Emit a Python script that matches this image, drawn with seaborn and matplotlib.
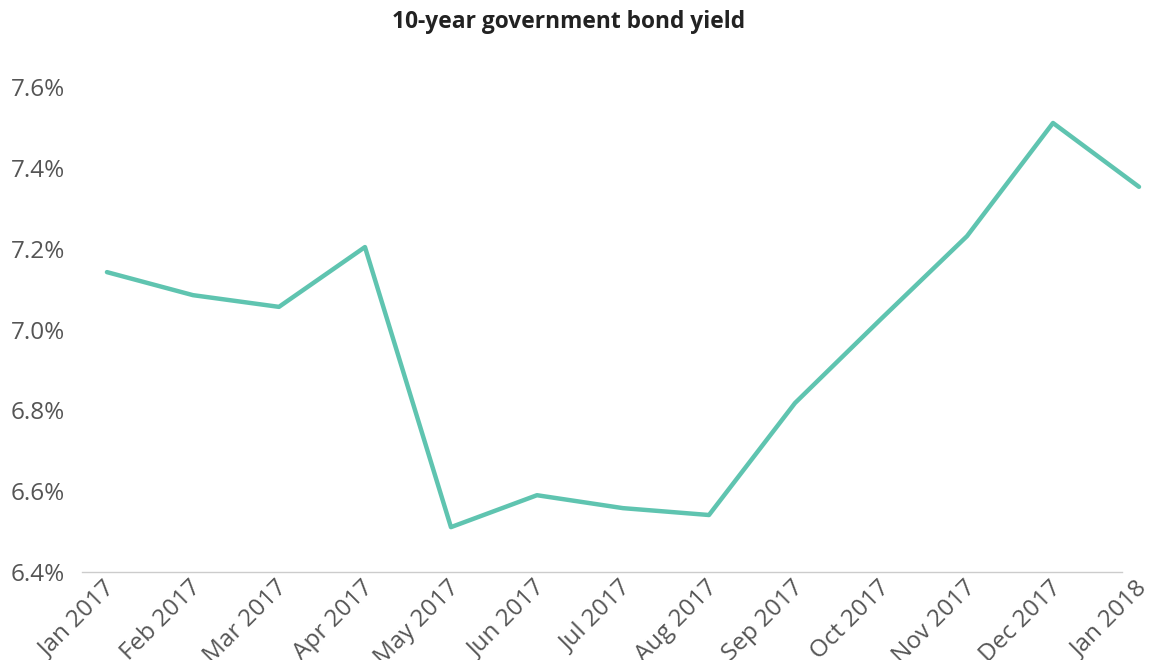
import matplotlib
matplotlib.use("Agg")
import matplotlib.pyplot as plt
import matplotlib.transforms as mtransforms
import seaborn as sns
import pandas as pd
import numpy as np

months = ["Jan 2017", "Feb 2017", "Mar 2017", "Apr 2017", "May 2017", "Jun 2017",
          "Jul 2017", "Aug 2017", "Sep 2017", "Oct 2017", "Nov 2017", "Dec 2017", "Jan 2018"]
yields = [7.142, 7.085, 7.056, 7.204, 6.511, 6.590, 6.558, 6.541, 6.818, 7.026, 7.231, 7.511, 7.353]
yticks = [6.4, 6.6, 6.8, 7.0, 7.2, 7.4, 7.6]

sns.set_theme(style="white")
plt.rcParams['font.family'] = ['Open Sans', 'DejaVu Sans']

df = pd.DataFrame({"idx": np.arange(len(months)), "month": months, "yield": yields})

fig = plt.figure(figsize=(11.49, 6.6), dpi=100)
ax = fig.add_axes([82/1149, 1 - 572/660, (1139-82)/1149, (572-60)/660])

sns.lineplot(data=df, x="idx", y="yield", ax=ax, color="#5fc4b0", linewidth=3.2, clip_on=False)

ax.set_yticks(yticks)
ax.set_yticklabels([f"{v:.1f}%" for v in yticks])
ax.set_xticks(df["idx"])
ax.set_xticklabels(months, rotation=45, ha="right", va="center", rotation_mode="anchor")
ax.set_xlim(-0.29, 12.0)
ax.set_ylim(6.4, 7.6 + 27/80.8*0.2)
ax.tick_params(axis="both", length=0, colors="#555555", labelsize=17.5)
ax.tick_params(axis="y", pad=12)
ax.tick_params(axis="x", pad=9)
ax.set_xlabel("")
ax.set_ylabel("")
for s in ["top", "right", "left"]:
    ax.spines[s].set_visible(False)
ax.spines["bottom"].set_color("#cccccc")
ax.spines["bottom"].set_linewidth(1)
ax.spines["bottom"].set_bounds(-0.29, 11.8)
ax.grid(False)

offset = mtransforms.ScaledTranslation(5/100, 0, fig.dpi_scale_trans)
for lab in ax.get_xticklabels():
    lab.set_transform(lab.get_transform() + offset)

fig.text(569/1149, 1 - 22/660, "10-year government bond yield", ha="center", va="center",
         fontsize=16.4, fontweight="bold", color="#222222")

fig.savefig("out.png", dpi=100)
